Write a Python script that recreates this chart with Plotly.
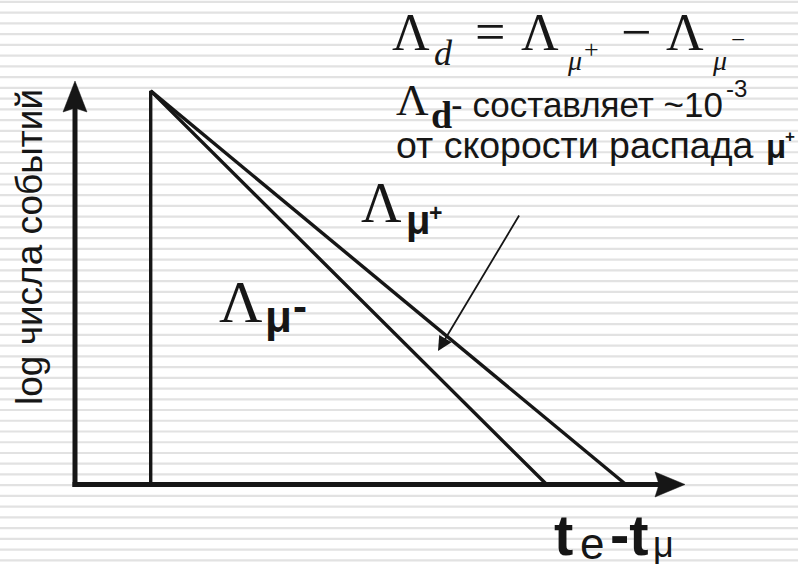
import plotly.graph_objects as go

# Decay curves on a log scale: log N(t) = log N0 - Lambda * t
LOG_N0 = 4.0
t_mu_minus = [0.0, 4.0]      # mu- disappears faster (decay + capture)
logn_mu_minus = [LOG_N0, 0.0]
t_mu_plus = [0.0, 4.8]       # mu+ : free decay only
logn_mu_plus = [LOG_N0, 0.0]
t_gate = [0.0, 0.0]          # start of the time window
logn_gate = [0.0, LOG_N0]

W, H = 798, 568
INK = "#161616"
SANS = "Liberation Sans, Arial, sans-serif"
SERIF = "Liberation Serif, Times New Roman, serif"

# frame of the drawing: where t=0 / logN=0 sit and how many px per unit
X0_PX, X_SCALE = 150.7, 99.0
Y0_PX, Y_SCALE = 484.5, 98.4


def px(x):
    return x / W


def py(y):
    return 1 - y / H


fig = go.Figure()

fig.add_trace(go.Scatter(
    x=t_gate + t_mu_minus[1:], y=logn_gate + logn_mu_minus[1:],
    mode="lines", line=dict(color=INK, width=3.4), hoverinfo="skip"))
fig.add_trace(go.Scatter(
    x=t_mu_plus, y=logn_mu_plus,
    mode="lines", line=dict(color=INK, width=3.4), hoverinfo="skip"))

shapes = []
# ruled paper background
for i in range(53):
    yy = 1.9 + i * 10.74
    shapes.append(dict(type="line", xref="paper", yref="paper", layer="below",
                       x0=0, x1=1, y0=py(yy), y1=py(yy),
                       line=dict(color="#e2e2e2", width=2.2)))


def poly(points):
    d = "M " + " L ".join(f"{px(a):.5f},{py(b):.5f}" for a, b in points) + " Z"
    return dict(type="path", xref="paper", yref="paper", path=d,
                fillcolor=INK, line=dict(color=INK, width=0.5))


# axes with arrow heads
shapes.append(dict(type="line", xref="paper", yref="paper",
                   x0=px(75), x1=px(75), y0=py(487), y1=py(106),
                   line=dict(color=INK, width=5)))
shapes.append(dict(type="line", xref="paper", yref="paper",
                   x0=px(72.5), x1=px(662), y0=py(484.5), y1=py(484.5),
                   line=dict(color=INK, width=5)))
shapes.append(poly([(75, 81), (63, 112), (75, 108), (87, 112)]))
shapes.append(poly([(685, 484.5), (655, 472), (659, 484.5), (655, 497)]))

fig.update_layout(shapes=shapes)


def text(x, base, s, size, family=SANS, bold=False, italic=False):
    k = 0.3465 if family == SANS else 0.3375
    t = s
    if bold:
        t = f"<b>{t}</b>"
    if italic:
        t = f"<i>{t}</i>"
    fig.add_annotation(x=px(x), y=py(base - k * size), xref="paper", yref="paper",
                       xanchor="left", yanchor="middle", text=t, showarrow=False,
                       font=dict(family=family, size=size, color=INK),
                       borderpad=0, borderwidth=0)


# formula: Lambda_d = Lambda_mu+ - Lambda_mu-
text(392, 50, "Λ", 52, SERIF)
text(434, 65, "d", 36, SERIF, italic=True)
text(475, 50, "=", 54, SERIF)
text(521, 50, "Λ", 52, SERIF)
text(567, 70, "μ", 28, SERIF, italic=True)
text(584, 58, "+", 26, SERIF)
text(621, 50, "−", 54, SERIF)
text(666, 50, "Λ", 52, SERIF)
text(712, 70, "μ", 28, SERIF, italic=True)
text(731, 48, "−", 25, SERIF)

# comment lines
text(396, 115, "Λ", 45, SERIF)
text(431, 128, "d", 38, SERIF, bold=True)
text(451, 117, "- составляет ~10", 35)
text(726, 97, "-3", 24)
text(396, 158, "от скорости распада", 37.5)
text(766, 158, "μ", 33, bold=True)
text(785, 142, "+", 17, bold=True)

# curve labels
text(361, 222, "Λ", 56, SERIF)
text(406, 234, "μ", 40, bold=True)
text(429, 221, "+", 23, bold=True)
text(219, 322, "Λ", 60, SERIF)
text(265, 332, "μ", 44, bold=True)
text(292.5, 321, "-", 42, bold=True)

# axis titles
text(554, 555, "t", 58, bold=True)
text(580, 559, "e", 44)
text(610, 555, "-t", 58, bold=True)
text(653, 557, "μ", 36)

fig.add_annotation(x=px(29), y=py(247), xref="paper", yref="paper",
                   xanchor="center", yanchor="middle", textangle=-90,
                   text="log числа событий", showarrow=False,
                   font=dict(family=SANS, size=37, color=INK),
                   borderpad=0, borderwidth=0)

# pointer to the mu+ line
fig.add_annotation(x=px(438), y=py(351), xref="paper", yref="paper",
                   ax=82, ay=-137, text="", showarrow=True,
                   arrowhead=2, arrowsize=1.6, arrowwidth=1.8, arrowcolor=INK)

fig.update_layout(
    width=W, height=H,
    margin=dict(l=0, r=0, t=0, b=0),
    paper_bgcolor="white", plot_bgcolor="white",
    showlegend=False,
    xaxis=dict(visible=False, range=[(0 - X0_PX) / X_SCALE, (W - X0_PX) / X_SCALE]),
    yaxis=dict(visible=False, range=[(Y0_PX - H) / Y_SCALE, Y0_PX / Y_SCALE]),
)

fig.write_html("out.html")
